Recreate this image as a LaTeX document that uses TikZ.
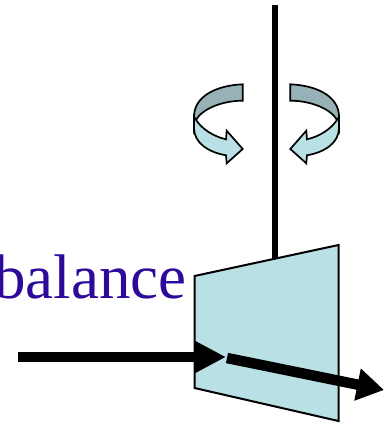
\documentclass[tikz,border=0pt]{standalone}
\usepackage{fontspec}
\setmainfont{Liberation Serif}
\usepackage{xcolor}
\usepackage{tikz}
\usetikzlibrary{positioning, arrows.meta}
\definecolor{bladefill}{RGB}{185,224,228}
\definecolor{bandshade}{RGB}{150,178,183}
\definecolor{labelblue}{RGB}{46,10,155}

\begin{document}
\begin{tikzpicture}[
  x=1pt, y=-1pt,
  blade/.style={draw=black, line width=2pt, fill=bladefill, line join=miter},
  band/.style={draw=black, line width=1.7pt, line join=miter},
  shaft/.style={draw=black, line width=6.5pt},
  flow/.style={draw=black, line width=10.5pt},
  curl/.pic={
    % Back of the band, then the front with its head
    \path[band, fill=bandshade] (242.7,84.3) .. controls (215,85.5) and (194,97) .. (194,116.7)
      -- (194,128) -- (196,120) .. controls (202,109) and (222,100.7) .. (242.7,100.7) -- cycle;
    \path[band, fill=bladefill] (196,120) .. controls (203,130) and (214,136.5) .. (226,139.3)
      -- (226.7,130.7) -- (242.7,149) -- (226.7,163.3) -- (226,155.3)
      .. controls (207,152) and (194,142) .. (194,128) -- (194,116.7) -- cycle;
  },
]
  \useasboundingbox (0,0) rectangle (384,424);

  % Corners of the blade and ends of the lines
  \coordinate (bladeNW) at (194.5,276);
  \coordinate (bladeNE) at (338.5,245);
  \coordinate (bladeSE) at (338.5,421);
  \coordinate (bladeSW) at (194.5,388);
  \coordinate (shaftTop) at (275,5);
  \coordinate (shaftEnd) at (275,259);
  \coordinate (inStart) at (18,357);
  \coordinate (inTip) at (226,357);
  \coordinate (outStart) at (227,358);
  \coordinate (outTip) at (384,390);

  \draw[shaft] (shaftTop) -- (shaftEnd);
  \draw[blade] (bladeNW) -- (bladeNE) -- (bladeSE) -- (bladeSW) -- cycle;

  \node[anchor=base east, inner sep=0pt, text=labelblue, font=\fontsize{63}{63}\selectfont] (balanceLabel) at (187,298) {balance};

  % Flow through the blade
  \draw[flow, -{Triangle[length=32pt, width=31pt]}] (inStart) -- (inTip);
  \draw[flow, -{Triangle[length=27pt, width=31pt]}] (outStart) -- (outTip);

  % Rotation arrows, mirrored about the shaft
  \pic at (0,0) {curl};
  \pic[xscale=-1] at (533,0) {curl};
\end{tikzpicture}
\end{document}
